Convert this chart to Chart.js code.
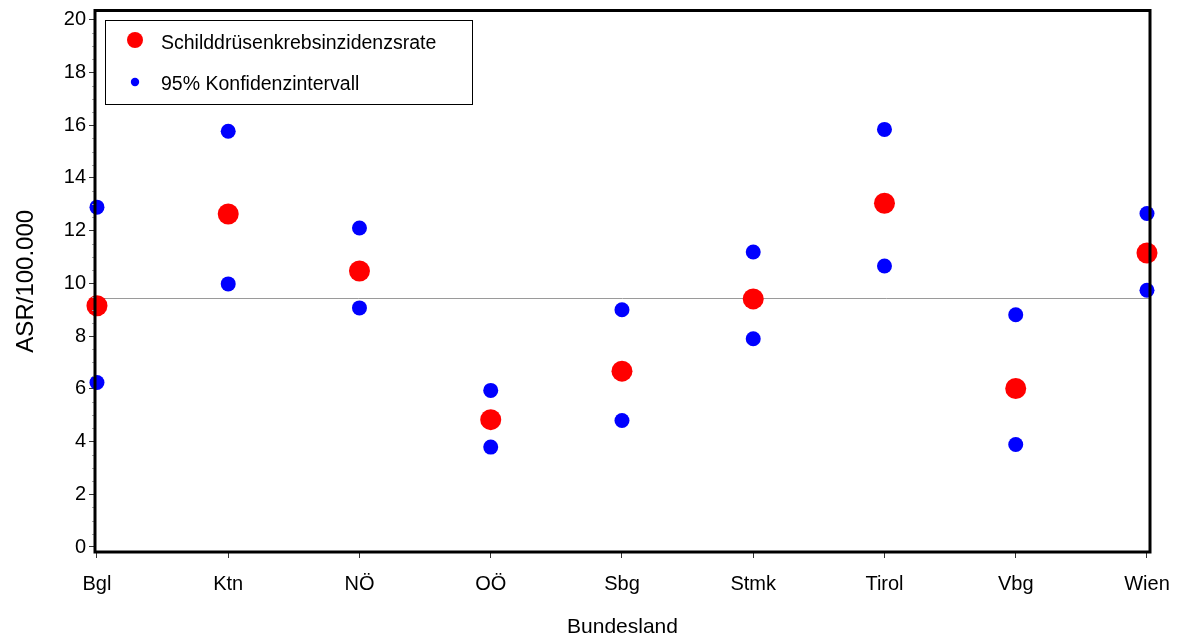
<!DOCTYPE html>
<html>
<head>
<meta charset="utf-8">
<script src="https://cdn.jsdelivr.net/npm/chart.js@4"></script>
<style>
html,body{margin:0;padding:0;background:#fff;}
#wrap{width:1178px;height:635px;}
</style>
</head>
<body>
<div id="wrap"><canvas id="c" width="1178" height="635"></canvas></div>
<script>
const categories = ["Bgl","Ktn","NÖ","OÖ","Sbg","Stmk","Tirol","Vbg","Wien"];
const rate    = [9.15, 12.63, 10.47, 4.83, 6.67, 9.41, 13.04, 6.01, 11.15];
const ciLower = [6.24, 9.98, 9.07, 3.79, 4.80, 7.90, 10.66, 3.89, 9.74];
const ciUpper = [12.89, 15.77, 12.10, 5.94, 9.00, 11.19, 15.84, 8.81, 12.65];
const referenceRate = 9.43;
const yTicks = [0,2,4,6,8,10,12,14,16,18,20];
const seriesLabels = ["Schilddrüsenkrebsinzidenzsrate","95% Konfidenzintervall"];

const FONT = "'Liberation Sans', Arial, Helvetica, sans-serif";

const rateData = rate.map((v,i)=>({x:i,y:v}));
const ciData = [];
ciLower.forEach((v,i)=>ciData.push({x:i,y:v}));
ciUpper.forEach((v,i)=>ciData.push({x:i,y:v}));

const refLinePlugin = {
  id:'refLine',
  beforeDatasetsDraw(chart){
    const {ctx, chartArea:a, scales:{y}} = chart;
    const py = Math.round(y.getPixelForValue(referenceRate)) + 0.5;
    ctx.save();
    ctx.strokeStyle = '#9a9a9a';
    ctx.lineWidth = 1;
    ctx.beginPath(); ctx.moveTo(a.left, py); ctx.lineTo(a.right, py); ctx.stroke();
    ctx.restore();
  }
};

const framePlugin = {
  id:'frame',
  afterDraw(chart){
    const {ctx, chartArea:a, scales:{y}} = chart;
    ctx.save();
    ctx.strokeStyle = '#aaa';
    ctx.lineWidth = 1;
    for (let v = 0.5; v < 20.4; v += 0.5) {
      if (Math.abs(v - Math.round(v/2)*2) < 1e-6) continue;
      const py = Math.round(y.getPixelForValue(v)) + 0.5;
      ctx.beginPath(); ctx.moveTo(a.left-3, py); ctx.lineTo(a.left, py); ctx.stroke();
    }
    ctx.strokeStyle = '#000';
    ctx.lineWidth = 3;
    ctx.strokeRect(a.left, a.top, a.right - a.left, a.bottom - a.top);
    const lx = 105.5, ly = 20.5, lw = 367, lh = 84;
    ctx.fillStyle = '#fff';
    ctx.fillRect(lx, ly, lw, lh);
    ctx.lineWidth = 1;
    ctx.strokeStyle = '#000';
    ctx.strokeRect(lx, ly, lw, lh);
    ctx.fillStyle = '#ff0000';
    ctx.beginPath(); ctx.arc(135, 40, 8, 0, Math.PI*2); ctx.fill();
    ctx.fillStyle = '#0000ff';
    ctx.beginPath(); ctx.arc(135, 82, 4.2, 0, Math.PI*2); ctx.fill();
    ctx.fillStyle = '#000';
    ctx.font = '19.5px ' + FONT;
    ctx.textBaseline = 'alphabetic';
    ctx.textAlign = 'left';
    ctx.fillText(seriesLabels[0], 161, 49);
    ctx.fillText(seriesLabels[1], 161, 90);
    ctx.restore();
  }
};

new Chart(document.getElementById('c'), {
  type:'scatter',
  data:{
    datasets:[
      {label:seriesLabels[0], data:rateData, backgroundColor:'#ff0000', borderWidth:0, pointRadius:10.5, pointHoverRadius:10.5, clip:false, order:1},
      {label:seriesLabels[1], data:ciData, backgroundColor:'#0000ff', borderWidth:0, pointRadius:7.5, pointHoverRadius:7.5, clip:false, order:2}
    ]
  },
  options:{
    responsive:false,
    animation:false,
    events:[],
    layout:{padding:{top:9, right:28, left:0, bottom:0}},
    plugins:{legend:{display:false}, tooltip:{enabled:false}},
    scales:{
      x:{
        type:'linear', min:-0.015, max:8.023,
        afterBuildTicks(s){ s.ticks = categories.map((c,i)=>({value:i})); },
        afterFit(s){ s.height = 83; s.paddingLeft = 0; s.paddingRight = 0; },
        ticks:{ callback:(v)=>categories[v], color:'#000', font:{family:FONT, size:20}, padding:14, maxRotation:0, autoSkip:false },
        grid:{ display:true, drawOnChartArea:false, drawTicks:true, tickLength:6, color:'#333', lineWidth:1 },
        border:{ display:false },
        title:{ display:true, text:'Bundesland', color:'#000', font:{family:FONT, size:21, lineHeight:0.72}, padding:{top:0,bottom:0} }
      },
      y:{
        type:'linear', min:-0.19, max:20.35,
        afterBuildTicks(s){ s.ticks = yTicks.map(v=>({value:v})); },
        afterFit(s){ s.width = 95; s.paddingTop = 0; s.paddingBottom = 0; },
        ticks:{ color:'#000', font:{family:FONT, size:20}, padding:3 },
        grid:{ display:true, drawOnChartArea:false, drawTicks:true, tickLength:6, color:'#333', lineWidth:1 },
        border:{ display:false },
        title:{ display:true, text:'ASR/100.000', color:'#000', font:{family:FONT, size:24, lineHeight:1}, padding:{top:14, bottom:0} }
      }
    }
  },
  plugins:[refLinePlugin, framePlugin]
});
</script>
</body>
</html>
